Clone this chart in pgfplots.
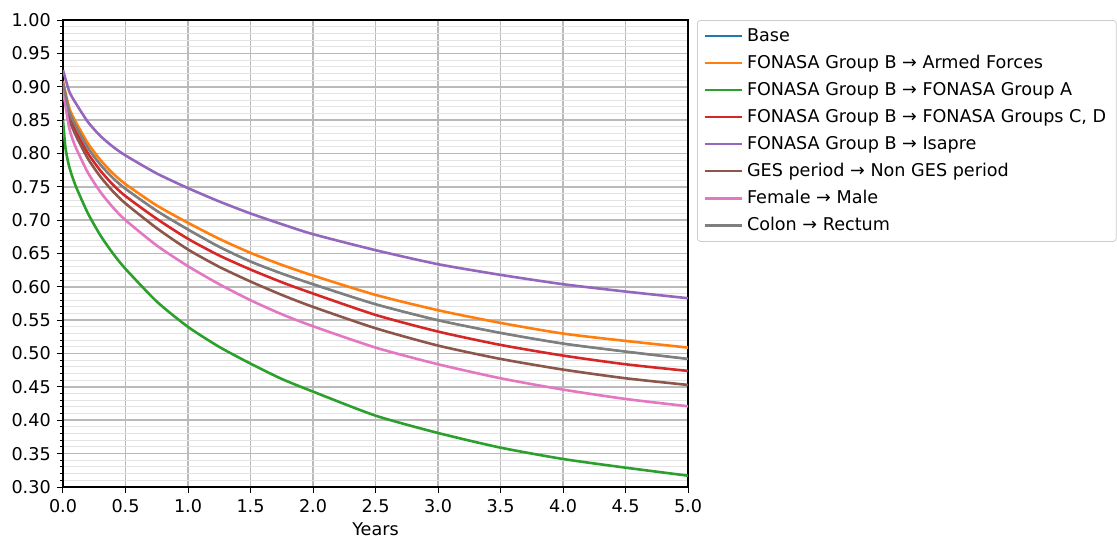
\documentclass[border=0pt]{standalone}
\usepackage{fontspec}
\setmainfont{DejaVu Sans}
\usepackage{pgfplots}
\pgfplotsset{compat=1.18}
\definecolor{tabblue}{HTML}{1F77B4}
\definecolor{taborange}{HTML}{FF7F0E}
\definecolor{tabgreen}{HTML}{2CA02C}
\definecolor{tabred}{HTML}{D62728}
\definecolor{tabpurple}{HTML}{9467BD}
\definecolor{tabbrown}{HTML}{8C564B}
\definecolor{tabpink}{HTML}{E377C2}
\definecolor{tabgray}{HTML}{7F7F7F}
\begin{document}
\fontsize{8.8}{10.5}\selectfont
\begin{tikzpicture}
\useasboundingbox (-31.5pt,-25pt) rectangle (527pt,243.5pt);
\begin{axis}[
  at={(0,0)}, anchor=south west, scale only axis,
  width=312.5pt, height=233.5pt,
  xmin=0, xmax=5, ymin=0.3, ymax=1.0,
  xtick={0,0.5,1,1.5,2,2.5,3,3.5,4,4.5,5},
  ytick={0.3,0.35,0.4,0.45,0.5,0.55,0.6,0.65,0.7,0.75,0.8,0.85,0.9,0.95,1.0},
  minor y tick num=4,
  xmajorgrids, ymajorgrids, yminorgrids,
  major grid style={color=black!27, line width=0.8pt},
  minor grid style={color=black!11, line width=0.5pt},
  tick align=outside, tick pos=left,
  major tick length=3pt, minor tick length=1.6pt,
  every tick/.style={black, line width=0.5pt},
  axis line style={black, line width=0.6pt},
  /pgf/number format/assume math mode=true,
  xticklabel style={/pgf/number format/.cd, fixed, fixed zerofill, precision=1},
  yticklabel style={/pgf/number format/.cd, fixed, fixed zerofill, precision=2},
  tick label style={font=\fontsize{8.8}{10.5}\selectfont},
  xlabel={Years},
  xlabel style={font=\fontsize{8.8}{10.5}\selectfont, yshift=1pt},
  legend cell align=left,
  legend style={at={(1.0144,1)}, anchor=north west, draw=black!20, rounded corners=1.5pt,
    font=\fontsize{8.8}{10.5}\selectfont, row sep=1.6pt, inner xsep=3pt, inner ysep=2pt},
  legend image code/.code={\draw[#1, line width=1.3pt] (0pt,0pt) -- (18.5pt,0pt);},
  every axis plot/.append style={line width=1.3pt, smooth, tension=0.4},
]
% Base (hidden under Colon -> Rectum)
\addplot[tabblue, line width=0.9pt] coordinates {(0,0.905)(0.05,0.863)(0.1,0.842)(0.2,0.808)(0.3,0.783)(0.4,0.763)(0.5,0.747)(0.75,0.714)(1.0,0.686)(1.25,0.660)(1.5,0.638)(1.75,0.620)(2.0,0.604)(2.5,0.574)(3.0,0.550)(3.5,0.531)(4.0,0.515)(4.5,0.503)(5.0,0.492)};
\addlegendentry{Base}
\addplot[taborange] coordinates {(0,0.908)(0.05,0.868)(0.1,0.848)(0.2,0.815)(0.3,0.790)(0.4,0.770)(0.5,0.754)(0.75,0.722)(1.0,0.696)(1.25,0.672)(1.5,0.651)(1.75,0.633)(2.0,0.617)(2.5,0.588)(3.0,0.565)(3.5,0.546)(4.0,0.530)(4.5,0.519)(5.0,0.509)};
\addlegendentry{FONASA Group B → Armed Forces}
\addplot[tabgreen] coordinates {(0,0.850)(0.02,0.808)(0.05,0.780)(0.1,0.752)(0.2,0.710)(0.3,0.677)(0.4,0.650)(0.5,0.627)(0.75,0.578)(1.0,0.540)(1.25,0.510)(1.5,0.485)(1.75,0.462)(2.0,0.443)(2.5,0.407)(3.0,0.381)(3.5,0.359)(4.0,0.342)(4.5,0.329)(5.0,0.317)};
\addlegendentry{FONASA Group B → FONASA Group A}
\addplot[tabred] coordinates {(0,0.903)(0.05,0.857)(0.1,0.834)(0.2,0.800)(0.3,0.774)(0.4,0.753)(0.5,0.736)(0.75,0.702)(1.0,0.672)(1.25,0.647)(1.5,0.626)(1.75,0.607)(2.0,0.590)(2.5,0.558)(3.0,0.533)(3.5,0.513)(4.0,0.497)(4.5,0.484)(5.0,0.474)};
\addlegendentry{FONASA Group B → FONASA Groups C, D}
\addplot[tabpurple] coordinates {(0,0.925)(0.05,0.893)(0.1,0.876)(0.2,0.847)(0.3,0.826)(0.4,0.810)(0.5,0.797)(0.75,0.770)(1.0,0.748)(1.25,0.728)(1.5,0.710)(1.75,0.694)(2.0,0.679)(2.5,0.655)(3.0,0.634)(3.5,0.618)(4.0,0.604)(4.5,0.593)(5.0,0.583)};
\addlegendentry{FONASA Group B → Isapre}
\addplot[tabbrown] coordinates {(0,0.900)(0.05,0.852)(0.1,0.828)(0.2,0.792)(0.3,0.765)(0.4,0.743)(0.5,0.725)(0.75,0.688)(1.0,0.656)(1.25,0.630)(1.5,0.608)(1.75,0.588)(2.0,0.570)(2.5,0.538)(3.0,0.512)(3.5,0.492)(4.0,0.476)(4.5,0.463)(5.0,0.453)};
\addlegendentry{GES period → Non GES period}
\addplot[tabpink] coordinates {(0,0.895)(0.05,0.838)(0.1,0.810)(0.2,0.771)(0.3,0.742)(0.4,0.719)(0.5,0.700)(0.75,0.662)(1.0,0.631)(1.25,0.604)(1.5,0.580)(1.75,0.559)(2.0,0.541)(2.5,0.509)(3.0,0.484)(3.5,0.463)(4.0,0.446)(4.5,0.432)(5.0,0.421)};
\addlegendentry{Female → Male}
\addplot[tabgray] coordinates {(0,0.905)(0.05,0.863)(0.1,0.842)(0.2,0.808)(0.3,0.783)(0.4,0.763)(0.5,0.747)(0.75,0.714)(1.0,0.686)(1.25,0.660)(1.5,0.638)(1.75,0.620)(2.0,0.604)(2.5,0.574)(3.0,0.550)(3.5,0.531)(4.0,0.515)(4.5,0.503)(5.0,0.492)};
\addlegendentry{Colon → Rectum}
\end{axis}
\end{tikzpicture}
\end{document}
